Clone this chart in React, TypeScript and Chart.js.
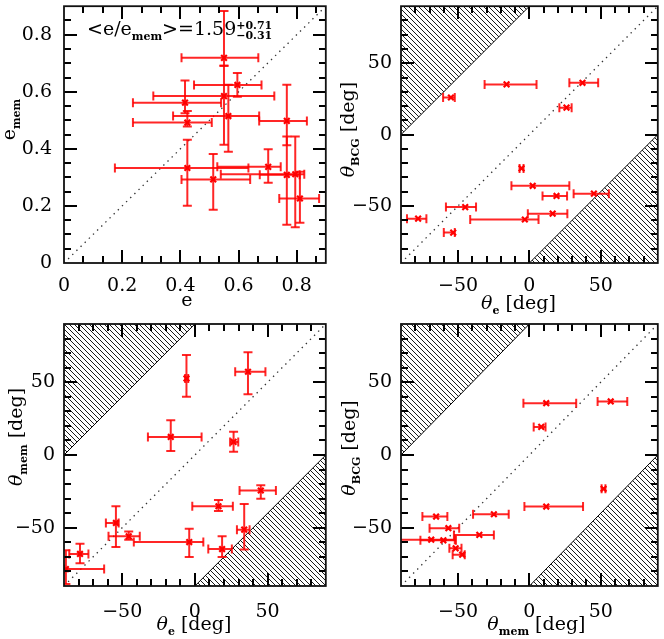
import React, { useEffect, useRef } from 'react';
import { Chart, registerables } from 'chart.js';
Chart.register(...registerables);

// ---------------- Panel 1: e (x) vs e_mem (y) ----------------
const p1E = [0.550, 0.596, 0.550, 0.416, 0.565, 0.766, 0.424, 0.424, 0.702, 0.513, 0.766, 0.795, 0.811];
const p1ELo = [0.404, 0.447, 0.307, 0.237, 0.375, 0.671, 0.237, 0.175, 0.527, 0.404, 0.673, 0.539, 0.740];
const p1EHi = [0.668, 0.679, 0.723, 0.540, 0.671, 0.835, 0.508, 0.634, 0.745, 0.640, 0.810, 0.826, 0.877];
const p1EMem = [0.719, 0.624, 0.585, 0.562, 0.515, 0.498, 0.492, 0.333, 0.337, 0.293, 0.309, 0.311, 0.226];
const p1EMemLo = [0.691, 0.583, 0.414, 0.525, 0.390, 0.413, 0.478, 0.201, 0.281, 0.187, 0.134, 0.125, 0.141];
const p1EMemHi = [0.883, 0.666, 0.691, 0.640, 0.625, 0.625, 0.533, 0.432, 0.399, 0.382, 0.443, 0.443, 0.320];

// ---------------- Panel 2: theta_e (x) vs theta_BCG (y) ----------------
const p2ThE = [-16, 37.2, -55, 26, -5.5, 2.3, 19, 45.2, -45, 16.3, -78, -3.2, -53.4];
const p2ThELo = [-31.4, 28, -60.5, 21, -6.9, -12.6, 9.2, 31, -58.5, -1.1, -85.8, -41.5, -60];
const p2ThEHi = [5, 48.2, -52.3, 29.6, -4.1, 28, 26.4, 55.7, -37.4, 26.6, -72.2, 6.4, -52.3];
const p2ThBCG = [35.2, 36.3, 26, 18.9, -23.7, -35.9, -43, -41.4, -50.8, -55.4, -58.9, -59.5, -68.7];

// ---------------- Panel 3: theta_e (x) vs theta_mem (y) ----------------
const p3ThE = [36.5, -5.8, -16.6, 26.6, 45.3, 16.2, -54.3, -45.5, 33.9, -3.9, 18.7, -79, -88.7];
const p3ThELo = [27.7, -6.7, -32.3, 24.2, 30.7, -1.8, -61.2, -59.4, 28.9, -42, 9.2, -86.4, -90];
const p3ThEHi = [48.5, -4.6, 4.6, 29.8, 55.7, 26.1, -52.4, -37.9, 37.6, 5.8, 25.4, -73.2, -62.4];
const p3ThMem = [57.2, 52.6, 12.4, 9, -24.4, -35.2, -46.7, -55.9, -51.3, -59.8, -64.6, -68, -78.4];
const p3ThMemLo = [41.8, 40, 2.8, 2.3, -30.1, -38.4, -63.2, -58.2, -65, -70.1, -70.1, -74.3, -88.7];
const p3ThMemHi = [70.6, 68.7, 23.9, 15.9, -20.7, -31, -35.2, -52.6, -33.6, -50.6, -55.9, -60.9, -65.5];

// ---------------- Panel 4: theta_mem (x) vs theta_BCG (y) ----------------
const p4ThMem = [11.8, 57, 8.3, 52, 11.8, -24.9, -65.4, -56.8, -35.1, -68.8, -60.3, -51.7, -47.1];
const p4ThMemLo = [-4.2, 47.8, 3, 50.6, -3.5, -39.5, -75, -70, -52.9, -95, -76.4, -56.1, -53.8];
const p4ThMemHi = [32.8, 68.6, 11.3, 53.3, 37.6, -14.5, -57.5, -49.2, -24.9, -52.3, -51.5, -47.6, -45.3];
const p4ThBCG = [35.6, 36.8, 19.3, -23.2, -35.4, -40.7, -42.3, -50.3, -54.9, -58.2, -58.6, -64.1, -68.5];

// ---------------- Axes ----------------
const E_MIN = 0, E_MAX = 0.9;
const E_TICKS = [0, 0.2, 0.4, 0.6, 0.8];
const ANG_MIN = -90, ANG_MAX = 90, ANG_SEP = 90;
const ANG_TICKS = [-50, 0, 50];

const RED = 'rgba(255,0,0,0.85)';
const FONT_FAMILY = '"DejaVu Serif"';

type Part = { t: string; k?: 'n' | 'i' | 'sub' | 'sup' | 'ss'; t2?: string };

const fontFor = (k?: string) =>
  k === 'i' ? `italic 19px ${FONT_FAMILY}` :
  (k === 'sub' || k === 'sup' || k === 'ss') ? `bold 11px ${FONT_FAMILY}` :
  `19px ${FONT_FAMILY}`;

function partW(ctx: CanvasRenderingContext2D, p: Part) {
  ctx.font = fontFor(p.k);
  let w = ctx.measureText(p.t).width;
  if (p.t2) w = Math.max(w, ctx.measureText(p.t2).width);
  return w;
}
function richW(ctx: CanvasRenderingContext2D, parts: Part[]) {
  return parts.reduce((s, p) => s + partW(ctx, p), 0);
}
function drawRich(ctx: CanvasRenderingContext2D, parts: Part[], x: number, y: number) {
  let cx = x;
  ctx.textAlign = 'left';
  ctx.textBaseline = 'alphabetic';
  for (const p of parts) {
    ctx.font = fontFor(p.k);
    if (p.k === 'ss') {
      ctx.fillText(p.t, cx, y - 6.5);
      ctx.fillText(p.t2 || '', cx, y + 4);
    } else {
      const dy = p.k === 'sub' ? 5 : p.k === 'sup' ? -6 : 0;
      ctx.fillText(p.t, cx, y + dy);
    }
    cx += partW(ctx, p);
  }
}

interface Spec {
  left: number; top: number; w: number; h: number;
  xs: number[]; ys: number[];
  xLo: number[]; xHi: number[]; yLo?: number[]; yHi?: number[];
  min: number; max: number; majors: number[]; minorX: number; minorY: number;
  fmt: (v: number) => string;
  hatch: boolean;
  xTitle: Part[]; yTitle: Part[];
  xTitleDx: number; xTitleY: number; yTitleX: number; yTitleDy: number;
  note?: Part[]; noteX?: number; noteY?: number;
  yAxisW: number; xAxisH: number; pad: { left: number; right: number; top: number; bottom: number };
  yTickPad: number; xTickPad: number;
}

const fmtE = (v: number) => (v === 0 ? '0' : v.toFixed(1));
const fmtAng = (v: number) => (v < 0 ? '\u2212' + Math.abs(v) : String(v));

const T_E: Part[] = [{ t: '\u03b8', k: 'i' }, { t: 'e', k: 'sub' }, { t: ' [deg]' }];
const T_BCG: Part[] = [{ t: '\u03b8', k: 'i' }, { t: 'BCG', k: 'sub' }, { t: ' [deg]' }];
const T_MEM: Part[] = [{ t: '\u03b8', k: 'i' }, { t: 'mem', k: 'sub' }, { t: ' [deg]' }];

const SPECS: Spec[] = [
  {
    left: 0, top: 0, w: 332, h: 318,
    xs: p1E, ys: p1EMem, xLo: p1ELo, xHi: p1EHi, yLo: p1EMemLo, yHi: p1EMemHi,
    min: E_MIN, max: E_MAX, majors: E_TICKS, minorX: 0.2 / 3, minorY: 0.05, fmt: fmtE, hatch: false,
    xTitle: [{ t: 'e' }], yTitle: [{ t: 'e' }, { t: 'mem', k: 'sub' }],
    xTitleDx: -8, xTitleY: 306, yTitleX: 15, yTitleDy: -15,
    note: [{ t: '<e/e' }, { t: 'mem', k: 'sub' }, { t: '>=1.59' }, { t: '+0.71', k: 'ss', t2: '\u22120.31' }],
    noteX: 87, noteY: 35,
    yAxisW: 64, xAxisH: 55, pad: { left: 0, right: 6, top: 2, bottom: 0 }, yTickPad: 12, xTickPad: 12,
  },
  {
    left: 332, top: 0, w: 332, h: 318,
    xs: p2ThE, ys: p2ThBCG, xLo: p2ThELo, xHi: p2ThEHi,
    min: ANG_MIN, max: ANG_MAX, majors: ANG_TICKS, minorX: 10, minorY: 10, fmt: fmtAng, hatch: true,
    xTitle: T_E, yTitle: T_BCG,
    xTitleDx: -11, xTitleY: 309, yTitleX: 22, yTitleDy: -5,
    yAxisW: 69, xAxisH: 55, pad: { left: 0, right: 1, top: 2, bottom: 0 }, yTickPad: 9, xTickPad: 12,
  },
  {
    left: 0, top: 310, w: 332, h: 329,
    xs: p3ThE, ys: p3ThMem, xLo: p3ThELo, xHi: p3ThEHi, yLo: p3ThMemLo, yHi: p3ThMemHi,
    min: ANG_MIN, max: ANG_MAX, majors: ANG_TICKS, minorX: 10, minorY: 10, fmt: fmtAng, hatch: true,
    xTitle: T_E, yTitle: T_MEM,
    xTitleDx: -1, xTitleY: 320, yTitleX: 22, yTitleDy: -18,
    yAxisW: 64, xAxisH: 53, pad: { left: 0, right: 6, top: 14, bottom: 0 }, yTickPad: 9, xTickPad: 15,
  },
  {
    left: 332, top: 310, w: 332, h: 329,
    xs: p4ThMem, ys: p4ThBCG, xLo: p4ThMemLo, xHi: p4ThMemHi,
    min: ANG_MIN, max: ANG_MAX, majors: ANG_TICKS, minorX: 10, minorY: 10, fmt: fmtAng, hatch: true,
    xTitle: T_MEM, yTitle: T_BCG,
    xTitleDx: 7, xTitleY: 320, yTitleX: 23, yTitleDy: -7,
    yAxisW: 69, xAxisH: 53, pad: { left: 0, right: 2, top: 14, bottom: 0 }, yTickPad: 9, xTickPad: 15,
  },
];

function makeHatch(ctx: CanvasRenderingContext2D) {
  const s = 5;
  const c = document.createElement('canvas');
  c.width = s; c.height = s;
  const g = c.getContext('2d')!;
  g.strokeStyle = '#000';
  g.lineWidth = 0.9;
  g.beginPath();
  g.moveTo(-1, -1); g.lineTo(s + 1, s + 1);
  g.moveTo(-1, s - 1); g.lineTo(1, s + 1);
  g.moveTo(s - 1, -1); g.lineTo(s + 1, 1);
  g.stroke();
  return ctx.createPattern(c, 'repeat');
}

function tickValues(min: number, max: number, step: number): number[] {
  const out: number[] = [];
  const count = Math.round((max - min) / step);
  for (let k = 1; k < count; k++) out.push(min + k * step);
  return out;
}

// error bars (drawn just before the scatter markers)
function makeErrorBars(spec: Spec) {
  return {
    id: 'errorBars',
    beforeDatasetDraw(chart: any, args: any) {
      const ds = chart.data.datasets[args.index];
      if (!ds.isData) return;
      const ctx: CanvasRenderingContext2D = chart.ctx;
      const a = chart.chartArea;
      const xs = chart.scales.x, ys = chart.scales.y;
      const cap = 4.5;
      ctx.save();
      ctx.setLineDash([]);
      ctx.beginPath();
      ctx.rect(a.left, a.top, a.right - a.left, a.bottom - a.top);
      ctx.clip();
      ctx.strokeStyle = RED;
      ctx.lineWidth = 2;
      ctx.lineCap = 'butt';
      const seg = (x1: number, y1: number, x2: number, y2: number) => {
        ctx.beginPath(); ctx.moveTo(x1, y1); ctx.lineTo(x2, y2); ctx.stroke();
      };
      spec.xs.forEach((xv, i) => {
        const px = xs.getPixelForValue(xv);
        const py = ys.getPixelForValue(spec.ys[i]);
        const x1 = xs.getPixelForValue(spec.xLo[i]);
        const x2 = xs.getPixelForValue(spec.xHi[i]);
        seg(x1, py, x2, py);
        seg(x1, py - cap, x1, py + cap);
        seg(x2, py - cap, x2, py + cap);
        if (spec.yLo && spec.yHi) {
          const y1 = ys.getPixelForValue(spec.yLo[i]);
          const y2 = ys.getPixelForValue(spec.yHi[i]);
          seg(px, y1, px, y2);
          seg(px - cap, y1, px + cap, y1);
          seg(px - cap, y2, px + cap, y2);
        }
      });
      ctx.restore();
    },
  };
}

// frame + inward ticks on all four sides
function makeFrameTicks(spec: Spec) {
  return {
    id: 'frameTicks',
    afterDraw(chart: any) {
      const ctx: CanvasRenderingContext2D = chart.ctx;
      const a = chart.chartArea;
      const xs = chart.scales.x, ys = chart.scales.y;
      ctx.save();
      ctx.fillStyle = '#000';
      const tw = 2;
      const xt = tickValues(spec.min, spec.max, spec.minorX);
      for (let i = 0; i < xt.length; i++) {
        const v = xt[i];
        const len = spec.majors.some((m) => Math.abs(m - v) < 1e-6) ? 13 : 7;
        const px = Math.round(xs.getPixelForValue(v));
        ctx.fillRect(px - 1, Math.round(a.bottom) - len, tw, len);
        ctx.fillRect(px - 1, Math.round(a.top), tw, len);
      }
      const yt = tickValues(spec.min, spec.max, spec.minorY);
      for (let i = 0; i < yt.length; i++) {
        const v = yt[i];
        const len = spec.majors.some((m) => Math.abs(m - v) < 1e-6) ? 13 : 7;
        const py = Math.round(ys.getPixelForValue(v));
        ctx.fillRect(Math.round(a.left), py - 1, len, tw);
        ctx.fillRect(Math.round(a.right) - len, py - 1, len, tw);
      }
      ctx.strokeStyle = '#111';
      ctx.lineWidth = 1.8;
      ctx.strokeRect(a.left, a.top, a.right - a.left, a.bottom - a.top);
      ctx.restore();
    },
  };
}

// axis titles with subscripts, and the annotation
function makeTitles(spec: Spec) {
  return {
    id: 'richTitles',
    afterDraw(chart: any) {
      const ctx: CanvasRenderingContext2D = chart.ctx;
      const a = chart.chartArea;
      ctx.save();
      ctx.fillStyle = '#000';
      const cxm = (a.left + a.right) / 2 + spec.xTitleDx;
      const wx = richW(ctx, spec.xTitle);
      drawRich(ctx, spec.xTitle, cxm - wx / 2, spec.xTitleY);
      const cym = (a.top + a.bottom) / 2 + spec.yTitleDy;
      const wy = richW(ctx, spec.yTitle);
      ctx.save();
      ctx.translate(spec.yTitleX, cym);
      ctx.rotate(-Math.PI / 2);
      drawRich(ctx, spec.yTitle, -wy / 2, 0);
      ctx.restore();
      if (spec.note) drawRich(ctx, spec.note, spec.noteX || 0, spec.noteY || 0);
      ctx.restore();
    },
  };
}

function buildConfig(spec: Spec, canvas: HTMLCanvasElement): any {
  const ctx = canvas.getContext('2d')!;
  const datasets: any[] = [
    {
      type: 'scatter',
      isData: true,
      data: spec.xs.map((x, i) => ({ x, y: spec.ys[i] })),
      pointStyle: 'crossRot',
      pointRadius: 4,
      pointBorderWidth: 2.2,
      borderWidth: 2.2,
      borderColor: 'rgb(255,0,0)',
      backgroundColor: 'rgb(255,0,0)',
      order: 0,
    },
    {
      type: 'line',
      data: [{ x: spec.min, y: spec.min }, { x: spec.max, y: spec.max }],
      borderColor: '#333',
      borderWidth: 1.3,
      borderDash: [1.4, 4.4],
      pointRadius: 0,
      fill: false,
      order: 1,
    },
  ];
  if (spec.hatch) {
    const pat = makeHatch(ctx);
    datasets.push(
      {
        type: 'line',
        data: [{ x: ANG_MIN, y: ANG_MIN + ANG_SEP }, { x: ANG_MAX - ANG_SEP, y: ANG_MAX }],
        borderColor: '#000', borderWidth: 1, pointRadius: 0,
        fill: 'end', backgroundColor: pat, order: 2,
      },
      {
        type: 'line',
        data: [{ x: ANG_MIN + ANG_SEP, y: ANG_MIN }, { x: ANG_MAX, y: ANG_MAX - ANG_SEP }],
        borderColor: '#000', borderWidth: 1, pointRadius: 0,
        fill: 'start', backgroundColor: pat, order: 2,
      },
    );
  }
  const tickFont = { family: 'DejaVu Serif', size: 19 };
  const setTicks = (s: any) => { s.ticks = spec.majors.map((v) => ({ value: v })); };
  const zeroPad = (s: any) => { s.paddingTop = 0; s.paddingBottom = 0; s.paddingLeft = 0; s.paddingRight = 0; };
  return {
    type: 'scatter',
    data: { datasets },
    plugins: [makeErrorBars(spec), makeFrameTicks(spec), makeTitles(spec)],
    options: {
      responsive: false,
      animation: false,
      events: [],
      layout: { padding: spec.pad },
      plugins: { legend: { display: false }, tooltip: { enabled: false } },
      scales: {
        x: {
          type: 'linear', min: spec.min, max: spec.max,
          grid: { display: false, drawTicks: false }, border: { display: false },
          ticks: { font: tickFont, color: '#000', padding: spec.xTickPad, maxRotation: 0, autoSkip: false, callback: (v: number) => spec.fmt(v) },
          afterBuildTicks: setTicks,
          afterFit: (s: any) => { s.height = spec.xAxisH; zeroPad(s); },
        },
        y: {
          type: 'linear', min: spec.min, max: spec.max,
          grid: { display: false, drawTicks: false }, border: { display: false },
          ticks: { font: tickFont, color: '#000', padding: spec.yTickPad, autoSkip: false, callback: (v: number) => spec.fmt(v) },
          afterBuildTicks: setTicks,
          afterFit: (s: any) => { s.width = spec.yAxisW; zeroPad(s); },
        },
      },
    },
  };
}

function Panel({ spec }: { spec: Spec }) {
  const ref = useRef<HTMLCanvasElement>(null);
  useEffect(() => {
    const canvas = ref.current!;
    const chart = new Chart(canvas, buildConfig(spec, canvas));
    return () => chart.destroy();
  }, [spec]);
  return (
    <canvas
      ref={ref}
      width={spec.w}
      height={spec.h}
      style={{ position: 'absolute', left: spec.left, top: spec.top, width: spec.w, height: spec.h }}
    />
  );
}

export default function App() {
  return (
    <div style={{ position: 'absolute', left: 0, top: 0, width: 664, height: 639, background: '#fff', overflow: 'hidden' }}>
      {SPECS.map((s, i) => (
        <Panel key={i} spec={s} />
      ))}
    </div>
  );
}
